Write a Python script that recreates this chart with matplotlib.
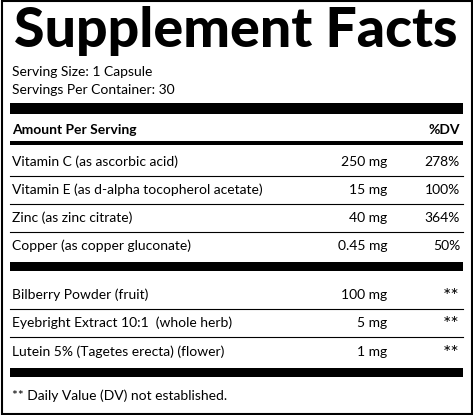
import matplotlib.pyplot as plt

# label content
title = 'Supplement Facts'
serving = ['Serving Size: 1 Capsule', 'Servings Per Container: 30']
names = ['Vitamin C (as ascorbic acid)', 'Vitamin E (as d-alpha tocopherol acetate)',
         'Zinc (as zinc citrate)', 'Copper (as copper gluconate)',
         'Bilberry Powder (fruit)', 'Eyebright Extract 10:1  (whole herb)',
         'Lutein 5% (Tagetes erecta) (flower)']
amounts = ['250 mg', '15 mg', '40 mg', '0.45 mg', '100 mg', '5 mg', '1 mg']
dv = ['278%', '100%', '364%', '50%', '**', '**', '**']
footnote = '** Daily Value (DV) not established.'

row_y = [162, 190, 218, 246, 295, 323, 352]
sep_after = ['thin', 'thin', 'thin', 'thick', 'thin', 'thin', 'thick']

fig = plt.figure(figsize=(4.73, 4.15), dpi=100)
ax = fig.add_axes([0, 0, 1, 1])
ax.set_xlim(0, 473)
ax.set_ylim(415, 0)
ax.axis('off')

ax.add_patch(plt.Rectangle((1.5, 1.5), 470, 412, fill=False, lw=1.5, ec='black'))
ax.text(236, 31, title, ha='center', va='center', fontsize=40, family='Lato',
        fontweight='black')
ax.text(12, 72, serving[0], va='center', fontsize=10, family='Lato')
ax.text(12, 90, serving[1], va='center', fontsize=10, family='Lato')

L, R = 10, 463
ax.fill_between([L, R], 103, 114, color='black', lw=0)
ax.text(12, 130, 'Amount Per Serving', va='center', fontsize=10, family='Lato', fontweight='bold')
ax.text(460, 130, '%DV', va='center', ha='right', fontsize=10, family='Lato', fontweight='bold')
ax.fill_between([L, R], 141, 145, color='black', lw=0)

for y, n, a, d, s in zip(row_y, names, amounts, dv, sep_after):
    ax.text(12, y, n, va='center', fontsize=10, family='Lato')
    ax.text(387, y, a, va='center', ha='right', fontsize=10, family='Lato')
    if d == '**':
        ax.text(460, y + 1, d, va='center', ha='right', fontsize=14, family='Lato')
    else:
        ax.text(460, y, d, va='center', ha='right', fontsize=10, family='Lato')
    if s == 'thin':
        ax.plot([L, R], [y + 14, y + 14], color='black', lw=0.8)
    else:
        ax.fill_between([L, R], y + 16, y + 25, color='black', lw=0)

ax.text(12, 396, footnote, va='center', fontsize=10, family='Lato')

fig.savefig('out.png', dpi=100)
